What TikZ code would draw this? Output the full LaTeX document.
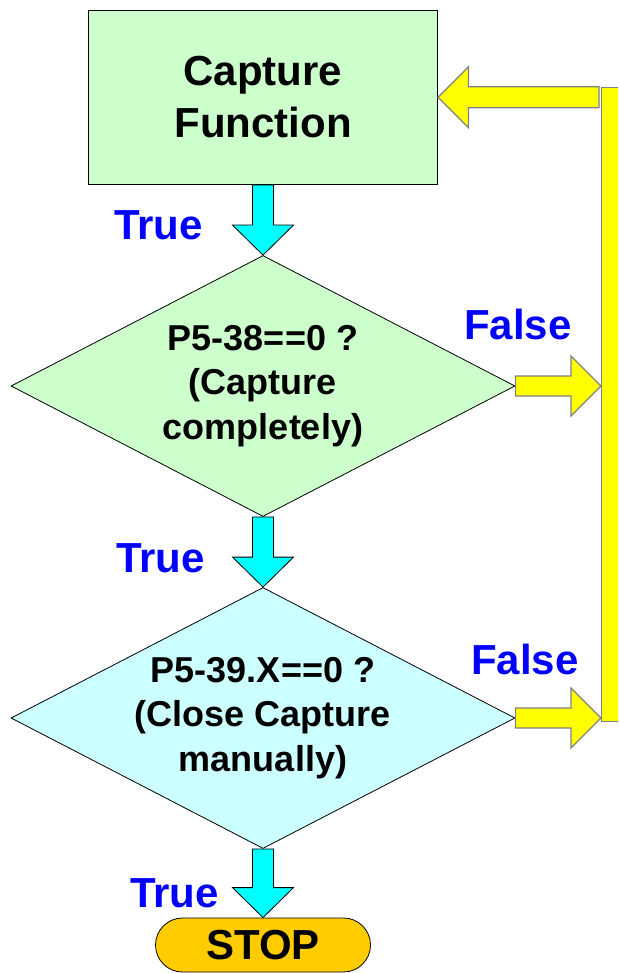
\documentclass[tikz,border=0pt]{standalone}
\usepackage{fontspec}
\setmainfont{Liberation Sans}
\usetikzlibrary{shapes.geometric,calc}
\definecolor{boxgreen}{HTML}{CCFFCC}
\definecolor{boxcyan}{HTML}{CCFFFF}
\definecolor{arrcyan}{HTML}{00FFFF}
\definecolor{arryellow}{HTML}{FFFF00}
\definecolor{stopgold}{HTML}{FFCC00}
\definecolor{lblblue}{HTML}{0000FF}
\definecolor{ygray}{HTML}{808080}
\newcommand\cyandown[2]{%
  \draw[cyanarrow] ($(#1)+(-10.5,0)$) -- ($(#1)+(10.5,0)$) -- ($(#2)+(10.5,-30)$)
    -- ($(#2)+(30.5,-30)$) -- (#2) -- ($(#2)+(-30.5,-30)$) -- ($(#2)+(-10.5,-30)$) -- cycle;}
\newcommand\yellowright[2]{%
  \draw[yellowarrow] ($(#1)+(0,-10)$) -- ($(#2)+(-30,-10)$) -- ($(#2)+(-30,-30)$)
    -- (#2) -- ($(#2)+(-30,30)$) -- ($(#2)+(-30,10)$) -- ($(#1)+(0,10)$) -- cycle;}
\newcommand\yellowleft[2]{%
  \draw[yellowarrow] ($(#1)+(0,-10.5)$) -- ($(#2)+(30.5,-10.5)$) -- ($(#2)+(30.5,-30.5)$)
    -- (#2) -- ($(#2)+(30.5,30.5)$) -- ($(#2)+(30.5,10.5)$) -- ($(#1)+(0,10.5)$) -- cycle;}
\begin{document}
\begin{tikzpicture}[x=1pt,y=-1pt,
  procbox/.style={draw=black, line width=0.8pt, fill=boxgreen, minimum width=349pt, minimum height=174.5pt, inner sep=0pt, align=center, font=\fontsize{42}{52}\selectfont\bfseries},
  decision/.style={diamond, draw=black, line width=0.8pt, minimum width=504pt, minimum height=261pt, shape aspect=1.93, inner sep=0pt, align=center, font=\fontsize{36}{44.5}\selectfont\bfseries},
  terminal/.style={draw=black, line width=0.8pt, fill=stopgold, rounded corners=27pt, minimum width=215pt, minimum height=54pt, inner sep=0pt, font=\fontsize{42}{50}\selectfont\bfseries},
  cyanarrow/.style={draw=black, line width=0.8pt, fill=arrcyan, line join=miter},
  yellowarrow/.style={draw=ygray, line width=1.2pt, fill=arryellow},
  barstyle/.style={draw=ygray, line width=1.2pt, fill=arryellow, minimum width=40pt, minimum height=634pt, inner sep=0pt, anchor=north west},
  lbl/.style={anchor=base west, inner sep=0pt, text=lblblue, font=\fontsize{42}{50}\selectfont\bfseries}
]
\useasboundingbox (0,0) rectangle (618,973);
\clip (0,0) rectangle (618,973);
\fill[white] (0,0) rectangle (618,973);

\node[barstyle] (bar) at (601,87) {};
\node[procbox] (cap) at (263,97.25) {Capture\\Function};
\node[decision, fill=boxgreen] (d1) at (263,386) {P5-38==0 ?\\(Capture\\completely)};
\node[decision, fill=boxcyan] (d2) at (263,718) {P5-39.X==0 ?\\(Close Capture\\manually)};
\node[terminal] (stop) at (263,945) {STOP};

\coordinate (f1) at (d1.east -| bar.west);
\coordinate (f2) at (d2.east -| bar.west);
\coordinate (r0) at ($(bar.west |- cap.east)+(-2,0)$);

\cyandown{cap.south}{d1.north}
\cyandown{d1.south}{d2.north}
\cyandown{d2.south}{stop.north}
\yellowright{d1.east}{f1}
\yellowright{d2.east}{f2}
\yellowleft{r0}{cap.east}

\node[lbl] (t1) at (114,240) {True};
\node[lbl] (t2) at (116,572) {True};
\node[lbl] (t3) at (130,907) {True};
\node[lbl] (fa1) at (464,339) {False};
\node[lbl] (fa2) at (471,674) {False};
\end{tikzpicture}
\end{document}
